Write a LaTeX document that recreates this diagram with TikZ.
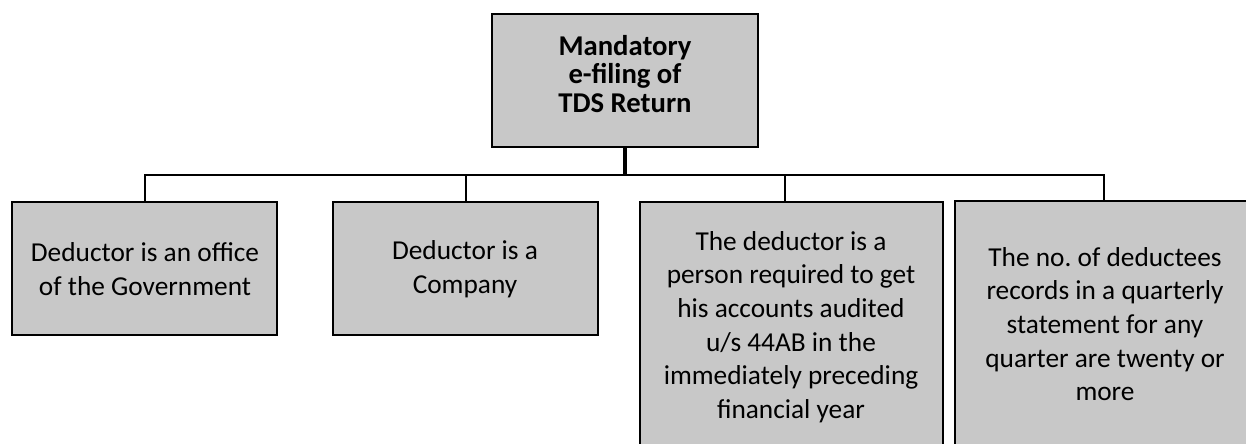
\documentclass[tikz,border=0pt]{standalone}
\usepackage{fontspec}
\setmainfont{Carlito}
\frenchspacing
\begin{document}
\begin{tikzpicture}[x=0.75pt,y=-0.75pt,
  box/.style={draw=black, line width=1.9pt, fill=boxgray, rectangle, inner sep=0pt},
  txt/.style={align=center, inner sep=0pt, font=\fontsize{20.5}{25.2}\selectfont},
  toptxt/.style={align=center, inner sep=0pt, font=\fontsize{21.5}{21.4}\selectfont\bfseries},
  conn/.style={draw=black, line width=1.5pt},
  stem/.style={draw=black, line width=2.4pt}]
\definecolor{boxgray}{HTML}{C8C8C8}
\useasboundingbox (0,0) rectangle (1246,443);
\begin{scope}
\clip (0,0) rectangle (1246,443);
% top box
\node[box, minimum width=266*0.75pt, minimum height=133*0.75pt] (top) at (625,80.5) {};
\node[toptxt] (toptext) at (625,74) {Mandatory\\e-filing of\\TDS Return};
% child boxes
\node[box, minimum width=265*0.75pt, minimum height=133*0.75pt] (b1) at (144.5,268.5) {};
\node[txt] (t1) at (145,269) {Deductor is an office\\of the Government};
\node[box, minimum width=265*0.75pt, minimum height=133*0.75pt] (b2) at (465.5,268.5) {};
\node[txt] (t2) at (465,269) {Deductor is a\\Company};
\node[box, minimum width=303*0.75pt, minimum height=280*0.75pt] (b3) at (791.5,342) {};
\node[txt] (t3) at (791,327) {The deductor is a\\person required to get\\his accounts audited\\u/s 44AB in the\\immediately preceding\\financial year};
\node[box, minimum width=310*0.75pt, minimum height=280*0.75pt] (b4) at (1110,341) {};
\node[txt] (t4) at (1105,324) {The no.\ of deductees\\records in a quarterly\\statement for any\\quarter are twenty or\\more};
% connectors
\coordinate (bus) at (625,175);
\draw[stem] (top.south) -- (bus);
\draw[conn] (bus) -| (b1.north);
\draw[conn] (bus) -| (b2.north);
\draw[conn] (bus) -| ([xshift=-6.5*0.75pt]b3.north);
\draw[conn] (bus) -| ([xshift=-6*0.75pt]b4.north);
\end{scope}
\end{tikzpicture}
\end{document}
